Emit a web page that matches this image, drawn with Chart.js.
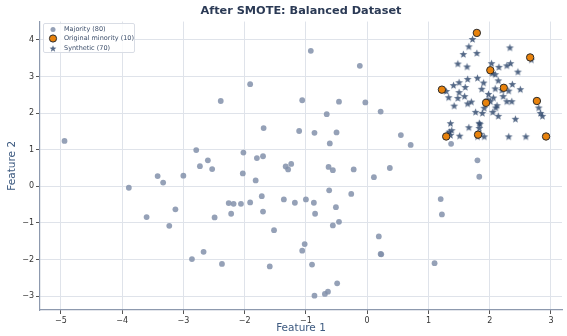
<!DOCTYPE html>
<html>
<head>
<meta charset="utf-8">
<script src="https://cdn.jsdelivr.net/npm/chart.js@4.4.0/dist/chart.umd.min.js"></script>
<style>
  body { margin: 0; background: #fff; }
  #wrap { position: relative; width: 567px; height: 336px; }
  #legend {
    position: absolute; left: 43px; top: 23px; width: 92px; height: 30px;
    border: 1px solid #d9dde5; border-radius: 2px; background: rgba(255,255,255,0.85);
    font: 6.5px "DejaVu Sans", sans-serif; color: #3d4f6b; box-sizing: border-box;
  }
  #legend .row { position: absolute; left: 0; height: 9px; line-height: 9px; white-space: nowrap; }
  #legend svg { position: absolute; left: 4px; top: 0; }
  #legend span { position: absolute; left: 20px; top: 0; }
</style>
</head>
<body>
<div id="wrap">
  <canvas id="chart" width="567" height="336"></canvas>
  <div id="legend"></div>
</div>
<script>
// ---- data ----
const majorityX = [-2.39, -4.94, -2.79, -2.60, -2.73, -2.53, -3.42, -3.33, -3.00, -3.89,
  -2.26, -2.18, -2.06, -2.22, -3.13, -3.60, -2.49, -3.23, -2.86, -2.67,
  -2.37, -0.92, -0.12, -1.91, -1.06, -0.46, -0.03, 0.22, -0.66, -1.69,
  -1.11, -0.86, -0.50, -0.61, 0.55, 0.71, -2.02, -1.80, -1.70, -1.33,
  -1.24, -1.29, -0.63, -0.56, -0.22, 0.37, -2.03, 0.11, -1.82, -0.62,
  -0.26, -1.72, -1.91, -1.36, -1.18, -1.00, -0.87, -0.51, -1.70, -0.85,
  -0.46, -0.56, -1.52, 0.19, 0.22, 0.23, -1.02, -1.06, -1.59, -0.90,
  -0.49, -0.64, -0.69, -0.86, 1.37, 1.80, 1.83, 1.20, 1.22, 1.10];
const majorityY = [2.33, 1.24, 0.99, 0.71, 0.55, 0.47, 0.28, 0.10, 0.29, -0.04,
  -0.46, -0.48, -0.48, -0.75, -0.63, -0.84, -0.85, -1.08, -1.99, -1.79,
  -2.12, 3.70, 3.29, 2.79, 2.35, 2.31, 2.29, 2.04, 1.97, 1.59,
  1.51, 1.46, 1.47, 1.17, 1.40, 1.13, 0.92, 0.77, 0.82, 0.54,
  0.61, 0.46, 0.53, 0.44, 0.46, 0.50, 0.35, 0.25, 0.16, -0.11,
  -0.21, -0.27, -0.44, -0.36, -0.45, -0.36, -0.45, -0.57, -0.69, -0.75,
  -0.97, -1.07, -1.20, -1.37, -1.85, -1.86, -1.58, -1.76, -2.19, -2.14,
  -2.65, -2.88, -2.94, -2.99, 1.16, 0.71, 0.26, -0.35, -0.77, -2.10];

const minorityX = [1.79, 2.66, 2.01, 1.22, 2.23, 1.94, 2.77, 1.29, 1.81, 2.92];
const minorityY = [4.19, 3.52, 3.17, 2.64, 2.69, 2.28, 2.33, 1.36, 1.41, 1.36];

const syntheticX = [1.72, 1.66, 1.57, 1.79, 2.33, 1.48, 1.63, 2.03, 2.15, 2.28,
  2.34, 2.46, 2.09, 2.14, 1.41, 1.50, 1.64, 1.80, 1.90, 1.87,
  2.09, 2.37, 2.31, 2.50, 1.29, 1.50, 1.59, 1.48, 1.33, 1.42,
  1.64, 1.98, 2.06, 2.01, 2.22, 2.28, 2.36, 1.91, 2.10, 1.77,
  1.88, 2.05, 2.14, 2.80, 2.83, 2.86, 2.42, 1.36, 1.84, 1.66,
  1.83, 1.34, 1.36, 1.51, 1.91, 2.31, 2.59, 1.31, 1.38, 2.04,
  1.97, 2.20, 1.85, 1.24, 2.68, 1.83, 1.60, 2.12, 1.70, 1.80];
const syntheticY = [4.01, 3.81, 3.60, 3.63, 3.78, 3.34, 3.26, 3.35, 3.25, 3.29,
  3.35, 3.12, 3.05, 2.88, 2.75, 2.83, 2.92, 2.95, 2.82, 2.65,
  2.66, 2.78, 2.60, 2.64, 2.59, 2.56, 2.45, 2.40, 2.42, 2.19,
  2.25, 2.51, 2.41, 2.31, 2.45, 2.31, 2.31, 2.13, 2.14, 2.02,
  1.99, 2.02, 1.91, 2.14, 1.99, 1.91, 1.83, 1.71, 1.69, 1.60,
  1.58, 1.48, 1.39, 1.37, 1.35, 1.35, 1.35, 1.42, 1.52, 3.08,
  2.36, 2.62, 1.42, 2.62, 3.45, 1.72, 2.70, 2.20, 2.30, 1.35];

const xTicks = [-5, -4, -3, -2, -1, 0, 1, 2, 3];
const yTicks = [-3, -2, -1, 0, 1, 2, 3, 4];
const seriesNames = ["Majority (80)", "Original minority (10)", "Synthetic (70)"];

const MAJ_COLOR = "rgba(130,145,170,0.85)";
const MIN_COLOR = "#e8820c";
const SYN_COLOR = "rgba(48,72,108,0.82)";

function toPoints(xs, ys) {
    return xs.map((x, i) => ({ x: x, y: ys[i] }));
}

// filled five-point star like the matplotlib '*' marker
function makeStar(r, color) {
    const c = document.createElement("canvas");
    const size = Math.ceil(r * 2 + 2);
    c.width = size; c.height = size;
    const g = c.getContext("2d");
    g.fillStyle = color;
    g.beginPath();
    for (let i = 0; i < 10; i++) {
        const rad = i % 2 === 0 ? r : r * 0.42;
        const a = -Math.PI / 2 + i * Math.PI / 5;
        const px = size / 2 + rad * Math.cos(a);
        const py = size / 2 + rad * Math.sin(a);
        if (i === 0) g.moveTo(px, py); else g.lineTo(px, py);
    }
    g.closePath();
    g.fill();
    return c;
}

const minus = v => String(v).replace("-", "\u2212");
const FONT = "'DejaVu Sans', sans-serif";

new Chart(document.getElementById("chart").getContext("2d"), {
    type: "scatter",
    data: {
        datasets: [
            {
                label: seriesNames[0],
                data: toPoints(majorityX, majorityY),
                backgroundColor: MAJ_COLOR,
                borderWidth: 0,
                pointRadius: 2.9,
                order: 2
            },
            {
                label: seriesNames[1],
                data: toPoints(minorityX, minorityY),
                backgroundColor: MIN_COLOR,
                borderColor: "#2b2b2b",
                borderWidth: 1,
                pointRadius: 3.7,
                order: 0
            },
            {
                label: seriesNames[2],
                data: toPoints(syntheticX, syntheticY),
                pointStyle: makeStar(4.1, SYN_COLOR),
                backgroundColor: SYN_COLOR,
                order: 1
            }
        ]
    },
    options: {
        responsive: false,
        animation: false,
        layout: { padding: { left: 0, right: 0, top: 0, bottom: 0 } },
        plugins: {
            legend: { display: false },
            tooltip: { enabled: false },
            title: {
                display: true,
                fullSize: false,
                text: "After SMOTE: Balanced Dataset",
                color: "#2b3a55",
                font: { family: FONT, size: 11.3, weight: "bold" },
                padding: { top: 4, bottom: 4 }
            }
        },
        scales: {
            x: {
                type: "linear",
                min: -5.34, max: 3.18,
                afterBuildTicks: s => { s.ticks = xTicks.map(v => ({ value: v })); },
                afterFit: s => { s.height = 26; },
                ticks: {
                    color: "#333", padding: 2, maxRotation: 0,
                    font: { family: FONT, size: 8 },
                    callback: v => minus(v)
                },
                grid: { color: "#dfe3ea", lineWidth: 1, tickLength: 4, tickColor: "#555" },
                border: { display: true, color: "#8d99ae", width: 1.2 },
                title: {
                    display: true, text: "Feature 1", color: "#3d5a80",
                    font: { family: FONT, size: 10.5 }, padding: { top: 0, bottom: 1.5 }
                }
            },
            y: {
                type: "linear",
                min: -3.38, max: 4.5,
                afterBuildTicks: s => { s.ticks = yTicks.map(v => ({ value: v })); },
                afterFit: s => { s.width = 40; },
                ticks: {
                    color: "#333", padding: 2,
                    font: { family: FONT, size: 8 },
                    callback: v => minus(v)
                },
                grid: { color: "#dfe3ea", lineWidth: 1, tickLength: 4, tickColor: "#555" },
                border: { display: true, color: "#8d99ae", width: 1.2 },
                title: {
                    display: true, text: "Feature 2", color: "#3d5a80",
                    font: { family: FONT, size: 10.5 }, padding: { top: 5.5, bottom: 0 }
                }
            }
        }
    }
});

// legend inside the plot, top-left
const legend = document.getElementById("legend");
const markers = [
    '<svg width="10" height="9"><circle cx="5" cy="4.5" r="2.5" fill="' + MAJ_COLOR + '"/></svg>',
    '<svg width="10" height="9"><circle cx="5" cy="4.5" r="3.6" fill="' + MIN_COLOR + '" stroke="#2b2b2b" stroke-width="1"/></svg>',
    '<svg width="10" height="9"><polygon fill="' + SYN_COLOR + '" points="' +
        Array.from({ length: 10 }, (_, i) => {
            const rad = i % 2 === 0 ? 3.6 : 1.5;
            const a = -Math.PI / 2 + i * Math.PI / 5;
            return (5 + rad * Math.cos(a)).toFixed(2) + "," + (4.8 + rad * Math.sin(a)).toFixed(2);
        }).join(" ") + '"/></svg>'
];
seriesNames.forEach((name, i) => {
    const row = document.createElement("div");
    row.className = "row";
    row.style.top = (1 + i * 9.3) + "px";
    row.innerHTML = markers[i] + "<span>" + name + "</span>";
    legend.appendChild(row);
});
</script>
</body>
</html>
